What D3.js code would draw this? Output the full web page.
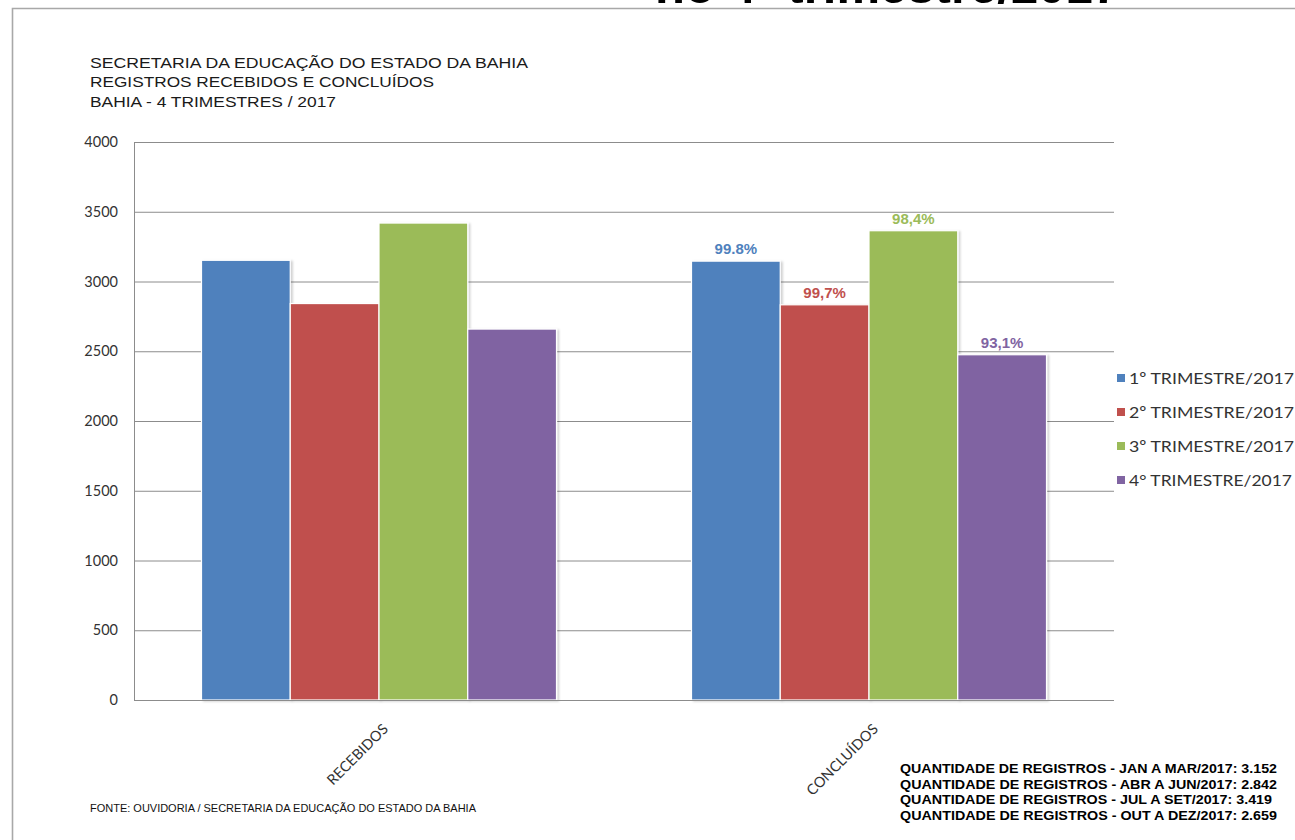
<!DOCTYPE html>
<html>
<head>
<meta charset="utf-8">
<script src="https://cdn.jsdelivr.net/npm/d3@7/dist/d3.min.js"></script>
<style>
  html, body { margin: 0; padding: 0; background: #fff; }
  svg { display: block; }
</style>
</head>
<body>
<script>
// Registros recebidos e concluídos por trimestre - Ouvidoria SEC/BA 2017
const categories = ["RECEBIDOS", "CONCLUÍDOS"];
const series = ["1º TRIMESTRE/2017", "2º TRIMESTRE/2017", "3º TRIMESTRE/2017", "4° TRIMESTRE/2017"];
const recebidos = [3152, 2842, 3419, 2659];
const concluidos = [3146, 2833, 3364, 2475];
const concluidosLabels = ["99.8%", "99,7%", "98,4%", "93,1%"];
const yTicks = [0, 500, 1000, 1500, 2000, 2500, 3000, 3500, 4000];
const colors = ["#4F81BD", "#C0504D", "#9BBB59", "#8064A2"];
const headerLines = [
  "SECRETARIA  DA EDUCAÇÃO DO ESTADO DA BAHIA",
  "REGISTROS  RECEBIDOS  E CONCLUÍDOS",
  "BAHIA - 4 TRIMESTRES  / 2017"
];
const summaryLines = [
  "QUANTIDADE DE REGISTROS - JAN A MAR/2017:  3.152",
  "QUANTIDADE DE REGISTROS - ABR A JUN/2017:  2.842",
  "QUANTIDADE DE REGISTROS - JUL A SET/2017:   3.419",
  "QUANTIDADE DE REGISTROS - OUT A DEZ/2017:  2.659"
];
const sourceText = "FONTE: OUVIDORIA / SECRETARIA DA EDUCAÇÃO DO ESTADO DA BAHIA";
const pageTitle = "no 4º trimestre/2017";

const W = 1295, H = 840;
const svg = d3.select("body").append("svg").attr("width", W).attr("height", H);

// soft shadow for bars
const defs = svg.append("defs");
const f = defs.append("filter").attr("id", "shadow").attr("x", "-10%").attr("y", "-10%").attr("width", "130%").attr("height", "130%");
f.append("feDropShadow").attr("dx", 2).attr("dy", 1).attr("stdDeviation", 1.2).attr("flood-color", "#000").attr("flood-opacity", 0.18);

// page title, running off the top edge of the page
svg.append("text")
  .attr("x", 655).attr("y", 3)
  .attr("font-family", "Liberation Sans, Arial, sans-serif")
  .attr("font-weight", "bold").attr("font-size", 49)
  .attr("fill", "#000")
  .attr("textLength", 465).attr("lengthAdjust", "spacingAndGlyphs")
  .text(pageTitle);

// frame
svg.append("path")
  .attr("d", `M12.5,${H} L12.5,8.5 L${W},8.5`)
  .attr("fill", "none").attr("stroke", "#a8a8a8").attr("stroke-width", 1.6);

// header
const headerWidths = [438, 344, 246];
svg.append("g").selectAll("text").data(headerLines).join("text")
  .attr("x", 90).attr("y", (d, i) => 67.5 + i * 19.5)
  .attr("font-family", "Liberation Sans, Arial, sans-serif")
  .attr("font-size", 15.5).attr("fill", "#1a1a1a")
  .attr("textLength", (d, i) => headerWidths[i])
  .attr("lengthAdjust", "spacingAndGlyphs")
  .text(d => d);

// scales
const plot = { left: 134, right: 1114, top: 142, bottom: 700 };
const y = d3.scaleLinear().domain([0, 4000]).range([plot.bottom, plot.top]);
const x0 = d3.scaleBand().domain(categories).range([plot.left, plot.right]);
const groupPad = 67.5;
const x1 = d3.scaleBand().domain(series).range([groupPad, x0.bandwidth() - groupPad]);

// y axis with gridlines
const yAxis = d3.axisLeft(y).tickValues(yTicks)
  .tickSize(-(plot.right - plot.left)).tickPadding(16).tickFormat(d3.format("d"));
const gy = svg.append("g").attr("transform", `translate(${plot.left},0)`).call(yAxis);
gy.select(".domain").attr("stroke", "#8c8c8c");
gy.selectAll(".tick line").attr("stroke", "#8c8c8c").attr("stroke-width", 1);
gy.selectAll(".tick text")
  .attr("font-family", "Lato, Carlito, sans-serif")
  .attr("font-size", 14.5).attr("fill", "#333");

// bars
const data = [recebidos, concluidos];
const groups = svg.append("g").selectAll("g").data(categories).join("g")
  .attr("transform", d => `translate(${x0(d)},0)`);
groups.selectAll("rect").data((c, ci) => data[ci].map((v, i) => ({ v, s: series[i], i })))
  .join("rect")
  .attr("x", d => x1(d.s))
  .attr("y", d => y(d.v))
  .attr("width", x1.bandwidth())
  .attr("height", d => y(0) - y(d.v))
  .attr("fill", d => colors[d.i])
  .attr("stroke", "#fff").attr("stroke-width", 1.2)
  .attr("filter", "url(#shadow)");

// bottom axis line
svg.append("line")
  .attr("x1", plot.left).attr("x2", plot.right)
  .attr("y1", plot.bottom + 0.5).attr("y2", plot.bottom + 0.5)
  .attr("stroke", "#8c8c8c");

// percentage labels over concluded bars
svg.append("g").attr("transform", `translate(${x0("CONCLUÍDOS")},0)`)
  .selectAll("text").data(concluidos).join("text")
  .attr("x", (d, i) => x1(series[i]) + x1.bandwidth() / 2)
  .attr("y", d => y(d) - 7)
  .attr("text-anchor", "middle")
  .attr("font-family", "Liberation Sans, Arial, sans-serif")
  .attr("font-weight", "bold").attr("font-size", 15)
  .attr("fill", (d, i) => colors[i])
  .text((d, i) => concluidosLabels[i]);

// category labels, rotated
svg.append("g").selectAll("text").data(categories).join("text")
  .attr("transform", d => `translate(${x0(d) + x0.bandwidth() / 2 + 10},${plot.bottom + 30}) rotate(-45)`)
  .attr("text-anchor", "end")
  .attr("font-family", "Lato, Carlito, sans-serif")
  .attr("font-size", 14.5).attr("fill", "#333")
  .text(d => d);

// legend
const legend = svg.append("g").selectAll("g").data(series).join("g")
  .attr("transform", (d, i) => `translate(1117,${378 + i * 34})`);
legend.append("rect").attr("x", 0).attr("y", -4).attr("width", 8).attr("height", 8)
  .attr("fill", (d, i) => colors[i]);
legend.append("text").attr("x", 12).attr("y", 5.5)
  .attr("font-family", "Lato, Carlito, sans-serif")
  .attr("font-size", 16).attr("fill", "#333")
  .attr("textLength", (d, i) => i === 3 ? 163 : 165)
  .attr("lengthAdjust", "spacingAndGlyphs")
  .text(d => d);

// source note
svg.append("text")
  .attr("x", 90).attr("y", 812)
  .attr("font-family", "Liberation Sans, Arial, sans-serif")
  .attr("font-size", 10.5).attr("fill", "#111")
  .attr("textLength", 386).attr("lengthAdjust", "spacingAndGlyphs")
  .text(sourceText);

// summary
svg.append("g").selectAll("text").data(summaryLines).join("text")
  .attr("x", 900).attr("y", (d, i) => 773 + i * 15.5)
  .attr("font-family", "Liberation Sans, Arial, sans-serif")
  .attr("font-weight", "bold").attr("font-size", 13).attr("fill", "#000")
  .attr("textLength", (d, i) => [377, 377, 372, 377][i])
  .attr("lengthAdjust", "spacingAndGlyphs")
  .text(d => d);
</script>
</body>
</html>
